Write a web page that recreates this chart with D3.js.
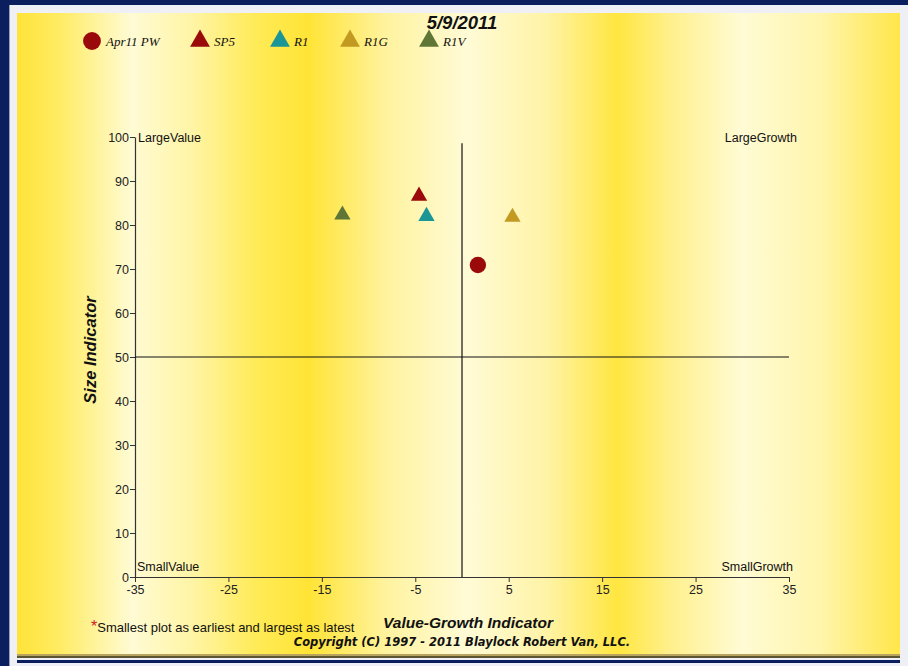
<!DOCTYPE html>
<html>
<head>
<meta charset="utf-8">
<script src="https://cdn.jsdelivr.net/npm/d3@7"></script>
<style>
  body { margin: 0; background: #0b1f5e; }
  svg { display: block; }
</style>
</head>
<body>
<svg id="mainSvg" width="908" height="666"></svg>
<script>
// data
var seriesNames = ["Apr11 PW", "SP5", "R1", "R1G", "R1V"];
var seriesShapes = ["circle", "triangle", "triangle", "triangle", "triangle"];
var seriesColors = ["#9a0a0a", "#9a0a0a", "#1a9696", "#c29a22", "#5f7636"];
var xValues = [1.7, -4.6, -3.8, 5.4, -12.8];     // value-growth
var yValues = [70.9, 86.6, 82.0, 81.8, 82.3];   // size
var xTicks = [-35, -25, -15, -5, 5, 15, 25, 35];
var yTicks = [0, 10, 20, 30, 40, 50, 60, 70, 80, 90, 100];

var chartTitle = "5/9/2011";
var navyColor = "#0b1f5e";
var panelColor = "#eef0f5";
var sansFont = "Arial, 'Liberation Sans', sans-serif";

window.addEventListener("load", drawChart);

function drawChart()
{
    const svg = d3.select("#mainSvg");
    const width = +svg.attr("width");
    const height = +svg.attr("height");

    // frame
    svg.append("rect").attr("width", width).attr("height", height).attr("fill", navyColor);
    svg.append("rect").attr("x", 9).attr("y", 5).attr("width", width - 9).attr("height", height - 5)
        .attr("fill", panelColor);
    svg.append("line").attr("x1", 9.5).attr("x2", 9.5).attr("y1", 5).attr("y2", height)
        .attr("stroke", "#9aa0b8").attr("stroke-width", 1);

    // yellow striped background
    const defs = svg.append("defs");
    const grad = defs.append("linearGradient").attr("id", "bgGrad")
        .attr("x1", "0%").attr("x2", "100%").attr("y1", "0%").attr("y2", "0%");
    const stops = [
        [0.00, "#ffe338"], [0.05, "#ffec66"], [0.13, "#fffbd4"], [0.20, "#fff4a4"],
        [0.27, "#ffeb58"], [0.33, "#ffe436"], [0.42, "#fff3a0"], [0.51, "#fffbd6"],
        [0.60, "#fff3a6"], [0.68, "#ffe640"], [0.74, "#fff08c"], [0.82, "#fffbd4"],
        [0.91, "#fff5ac"], [1.00, "#ffe64a"]
    ];
    stops.forEach(s => grad.append("stop").attr("offset", s[0]).attr("stop-color", s[1]));
    svg.append("rect").attr("x", 17).attr("y", 13).attr("width", 883).attr("height", 641)
        .attr("fill", "url(#bgGrad)");

    // bottom bars
    svg.append("rect").attr("x", 17).attr("y", 654).attr("width", 883).attr("height", 2).attr("fill", "#b8a460");
    svg.append("rect").attr("x", 17).attr("y", 656).attr("width", 883).attr("height", 2).attr("fill", "#5c5630");
    svg.append("rect").attr("x", 17).attr("y", 660).attr("width", 883).attr("height", 3).attr("fill", navyColor);

    const margin = {top: 137, left: 135, right: 119, bottom: 89};
    const innerWidth = width - margin.left - margin.right;
    const innerHeight = height - margin.top - margin.bottom;

    const xScale = d3.scaleLinear().domain([-35, 35]).range([0, innerWidth]);
    const yScale = d3.scaleLinear().domain([0, 100]).range([innerHeight, 0]);

    const mainGroup = svg.append("g")
        .attr("transform", `translate(${margin.left}, ${margin.top})`);

    // axes (plain hyphen minus, as in the picture)
    const xAxisGroup = mainGroup.append("g")
        .attr("transform", `translate(0, ${innerHeight})`)
        .call(d3.axisBottom(xScale).tickValues(xTicks).tickSize(5).tickSizeOuter(0)
            .tickPadding(2).tickFormat(d => String(d)));
    const yAxisGroup = mainGroup.append("g")
        .call(d3.axisLeft(yScale).tickValues(yTicks).tickSize(5).tickSizeOuter(0)
            .tickPadding(1).tickFormat(d => String(d)));
    [xAxisGroup, yAxisGroup].forEach(g => {
        g.selectAll("path").attr("stroke", "#333").attr("stroke-width", 1.2);
        g.selectAll("line").attr("stroke", "#333");
        g.selectAll("text").attr("fill", "#222").attr("font-family", sansFont)
            .attr("font-size", "12.5px");
    });
    xAxisGroup.selectAll("text").attr("dy", "0.8em");

    // quadrant lines
    mainGroup.append("line")
        .attr("x1", xScale(0)).attr("x2", xScale(0))
        .attr("y1", yScale(98.6)).attr("y2", yScale(0))
        .attr("stroke", "#111").attr("stroke-width", 1.2);
    mainGroup.append("line")
        .attr("x1", xScale(-35)).attr("x2", xScale(35))
        .attr("y1", yScale(50)).attr("y2", yScale(50))
        .attr("stroke", "#111").attr("stroke-width", 1.2);

    // corner labels
    const corner = [
        ["LargeValue", xScale(-35) + 3, yScale(100) + 5, "start"],
        ["LargeGrowth", xScale(35) + 8, yScale(100) + 5, "end"],
        ["SmallValue", xScale(-35) + 2, yScale(0) - 6, "start"],
        ["SmallGrowth", xScale(35) + 4, yScale(0) - 6, "end"]
    ];
    mainGroup.selectAll(".corner").data(corner).join("text")
        .attr("class", "corner")
        .attr("x", d => d[1]).attr("y", d => d[2])
        .attr("text-anchor", d => d[3])
        .attr("font-family", sansFont)
        .attr("font-size", "12.5px").attr("fill", "#111")
        .text(d => d[0]);

    // points
    const symTri = d3.symbol().type(d3.symbolTriangle).size(115);
    const symCir = d3.symbol().type(d3.symbolCircle).size(210);
    mainGroup.selectAll(".pt").data(seriesNames).join("path")
        .attr("class", "pt")
        .attr("transform", (d, i) => `translate(${xScale(xValues[i])}, ${yScale(yValues[i])})`)
        .attr("d", (d, i) => seriesShapes[i] === "circle" ? symCir() : symTri())
        .attr("fill", (d, i) => seriesColors[i]);

    // legend
    const legendX = [92, 200, 280, 350, 429];
    const legend = svg.selectAll(".leg").data(seriesNames).join("g")
        .attr("class", "leg")
        .attr("transform", (d, i) => `translate(${legendX[i]}, 41)`);
    legend.append("path")
        .attr("d", (d, i) => seriesShapes[i] === "circle"
            ? d3.symbol().type(d3.symbolCircle).size(250)()
            : d3.symbol().type(d3.symbolTriangle).size(170)())
        .attr("fill", (d, i) => seriesColors[i]);
    legend.append("text")
        .attr("x", 14).attr("y", 5)
        .attr("font-family", "'Liberation Serif', 'Times New Roman', serif")
        .attr("font-style", "italic").attr("font-size", "13px").attr("fill", "#111")
        .text(d => d);

    // title
    svg.append("text").attr("x", 462).attr("y", 29).attr("text-anchor", "middle")
        .attr("font-family", sansFont)
        .attr("font-weight", "bold").attr("font-style", "italic").attr("font-size", "18.5px")
        .attr("fill", "#111").text(chartTitle);

    // axis titles
    svg.append("text").attr("x", 468).attr("y", 628).attr("text-anchor", "middle")
        .attr("font-family", sansFont)
        .attr("font-weight", "bold").attr("font-style", "italic").attr("font-size", "15.5px")
        .attr("fill", "#111").text("Value-Growth Indicator");
    svg.append("text").attr("transform", "translate(96, 350) rotate(-90)").attr("text-anchor", "middle")
        .attr("font-family", sansFont)
        .attr("font-weight", "bold").attr("font-style", "italic").attr("font-size", "16.5px")
        .attr("fill", "#111").text("Size Indicator");

    // footnote
    const note = svg.append("text").attr("x", 91).attr("y", 632)
        .attr("font-family", sansFont).attr("font-size", "13px").attr("fill", "#111");
    note.append("tspan").attr("fill", "#d02020").attr("font-size", "16px").text("*");
    note.append("tspan").text("Smallest plot as earliest and largest as latest");

    svg.append("text").attr("x", 462).attr("y", 646).attr("text-anchor", "middle")
        .attr("font-family", "'DejaVu Sans', Verdana, sans-serif")
        .attr("font-weight", "bold").attr("font-style", "italic").attr("font-size", "11.5px")
        .attr("fill", "#111").text("Copyright (C) 1997 - 2011 Blaylock Robert Van, LLC.");
}
</script>
</body>
</html>
